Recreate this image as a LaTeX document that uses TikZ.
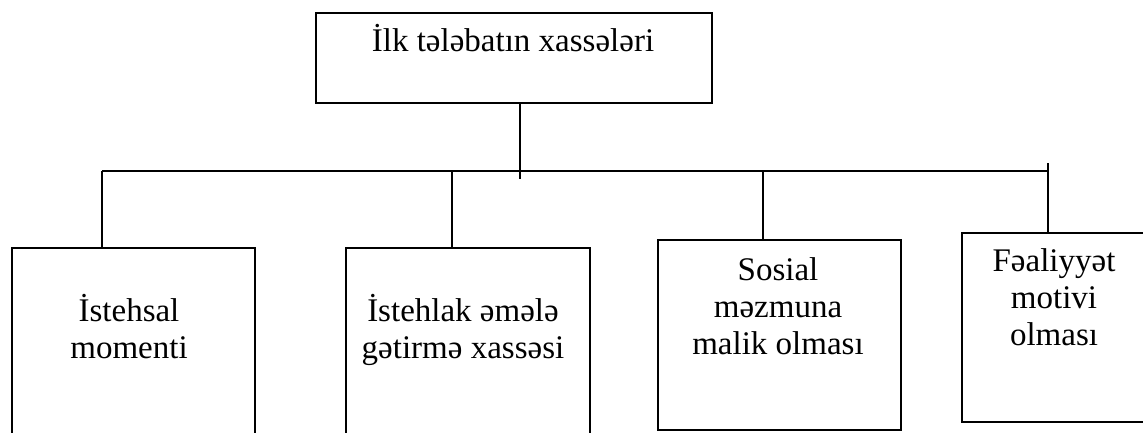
\documentclass[tikz,border=0pt]{standalone}
\usepackage{fontspec}
\setmainfont{Liberation Serif}
\usepackage{tikz}
\usetikzlibrary{positioning}
\definecolor{Ink}{HTML}{000000}
\tikzset{
  headBox/.style={rectangle,draw=Ink,line width=1.7pt,fill=white,
    minimum width=396pt,minimum height=90pt,inner sep=0pt,anchor=north west},
  traitBox/.style={rectangle,draw=Ink,line width=1.7pt,fill=white,
    inner sep=0pt,anchor=north west},
  boxText/.style={font=\fontsize{33}{37}\selectfont,text=Ink,align=center,
    inner sep=0pt,anchor=north},
  treeLine/.style={draw=Ink,line width=1.5pt}
}

\begin{document}
\begin{tikzpicture}[x=1pt,y=-1pt]
  \useasboundingbox (0,0) rectangle (1143,432);
  \clip (0,0) rectangle (1143,432);
  \fill[white] (0,0) rectangle (1143,432);
  % boxes
  \node[headBox] (top) at (315,12) {};
  \node[traitBox,minimum width=243pt,minimum height=200pt] (b1) at (11,247) {};
  \node[traitBox,minimum width=244pt,minimum height=200pt] (b2) at (345,247) {};
  \node[traitBox,minimum width=243pt,minimum height=190pt] (b3) at (657,239) {};
  \node[traitBox,minimum width=188pt,minimum height=189pt] (b4) at (961,232) {};
  % texts
  \node[boxText] (topText) at (513,24) {İlk tələbatın xassələri};
  \node[boxText] (t1) at (129,294) {İstehsal\\momenti};
  \node[boxText] (t2) at (463,294) {İstehlak əmələ\\gətirmə xassəsi};
  \node[boxText] (t3) at (778,257) {Sosial\\məzmuna\\malik olması};
  \node[boxText] (t4) at (1054,248) {Fəaliyyət\\motivi\\olması};
  % bus and drops
  \coordinate (hub) at (520,179);
  \coordinate (j1) at (102,171);
  \coordinate (j2) at (452,171);
  \coordinate (j3) at (763,171);
  \coordinate (j4) at (1048,171);
  \coordinate (j4top) at (1048,163);
  \draw[treeLine] (hub |- top.south) -- (hub);
  \draw[treeLine] (j1) -- (j4);
  \foreach \j/\b in {j1/b1,j2/b2,j3/b3}{\draw[treeLine] (\j) -- (\j |- \b.north);}
  \draw[treeLine] (j4top) -- (j4top |- b4.north);
\end{tikzpicture}
\end{document}
